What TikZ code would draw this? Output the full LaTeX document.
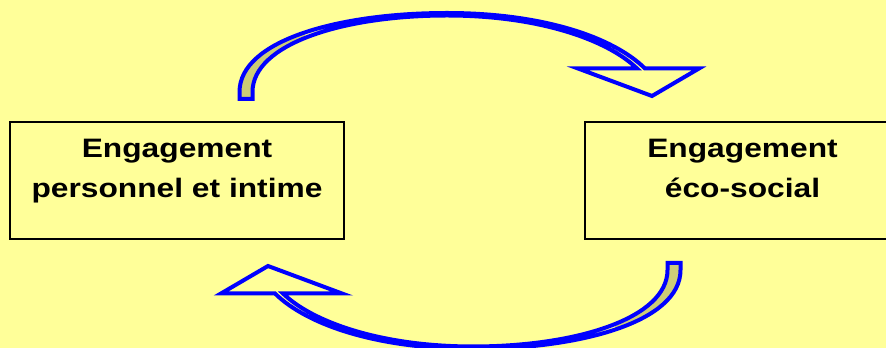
\documentclass[tikz,border=0pt]{standalone}
\usepackage{fontspec}
\usepackage{tikz}
\usetikzlibrary{positioning}
\newfontfamily\boxfont{Liberation Sans}[FakeStretch=1.19]
\definecolor{myellow}{RGB}{255,255,153}
\definecolor{mblue}{RGB}{0,0,255}
\definecolor{molive}{RGB}{204,204,119}
\newcommand{\swooshpath}{(239.5,99) -- (239.5,92) .. controls (239.5,40) and (340,13) .. (447,13) .. controls (540,13) and (612,36) .. (645,68.5) -- (699,68.5) -- (652,96) -- (578,68.5) -- (637,68.5) .. controls (607,39.5) and (538,15.5) .. (447,15.5) .. controls (343,15.5) and (252.5,44) .. (252.5,92) -- (252.5,99) -- cycle}
\tikzset{
  box/.style={draw=black, line width=1.2pt, fill=myellow, minimum height=87.75pt, inner sep=0pt},
  boxtext/.style={font=\boxfont\bfseries\fontsize{20}{30}\selectfont, align=center, inner sep=0pt},
  swoosh/.style={draw=mblue, line width=3pt, line join=miter}
}

\begin{document}
\begin{tikzpicture}[x=0.75pt, y=-0.75pt]
    \useasboundingbox (0, 0) rectangle (886, 348);
    \fill [myellow] (0, 0) rectangle (886, 348);

    \node [box, minimum width=250.5pt] (pers) at (177, 180.5) {};
    \node [box, minimum width=236.25pt] (eco) at (742.5, 180.5) {};

    \node [boxtext, below=13pt of pers.north] (perstxt) {Engagement\\personnel et intime};
    \node [boxtext, below=13pt of eco.north] (ecotxt) {Engagement\\éco-social};

    % upper arrow, from left box to right box
    \fill [myellow] \swooshpath;
    \begin{scope}
      \clip (200, 30) rectangle (305, 100);
      \fill [molive] \swooshpath;
    \end{scope}
    \draw [swoosh] \swooshpath;

    % lower arrow, the same turned round
    \begin{scope}[rotate around={180:(460, 181)}]
      \fill [myellow] \swooshpath;
      \begin{scope}
        \clip (200, 30) rectangle (305, 100);
        \fill [molive] \swooshpath;
      \end{scope}
      \draw [swoosh] \swooshpath;
    \end{scope}
  \end{tikzpicture}
\end{document}
